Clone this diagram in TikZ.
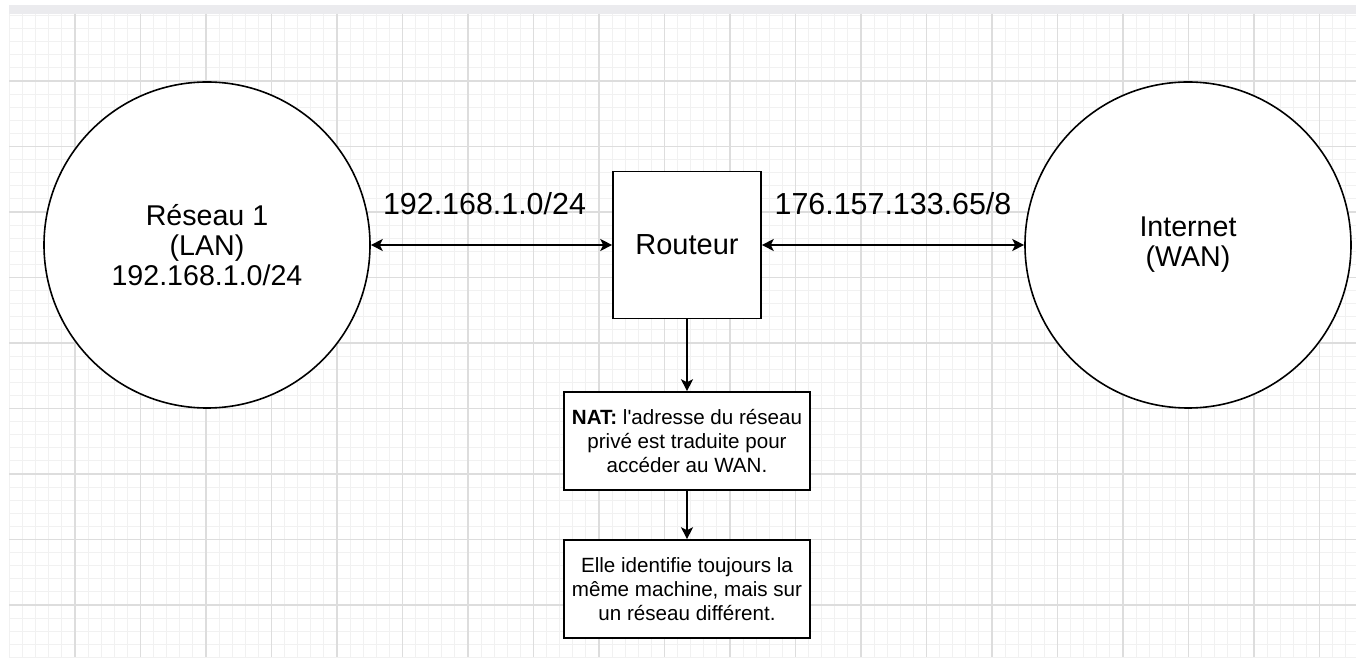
\documentclass[tikz,border=0pt]{standalone}
\usepackage{fontspec}
\setmainfont{Liberation Sans}
\usetikzlibrary{arrows.meta}
\definecolor{gridminor}{HTML}{F1F1F1}
\definecolor{gridmajor}{HTML}{DDDDDD}
\definecolor{topbar}{HTML}{EBEBEE}

\begin{document}
\begin{tikzpicture}[x=0.5pt,y=-0.5pt,
    minorline/.style={draw=gridminor,line width=0.5pt},
    majorline/.style={draw=gridmajor,line width=0.6pt},
    netcircle/.style={circle,draw,line width=0.8pt,fill=white,minimum size=163pt,inner sep=0pt,align=center,font=\fontsize{14.3}{15}\selectfont},
    routerbox/.style={rectangle,draw,line width=0.8pt,fill=white,minimum width=74pt,minimum height=73.5pt,font=\fontsize{14.5}{16}\selectfont},
    notebox/.style={rectangle,draw,line width=0.8pt,fill=white,minimum width=123pt,minimum height=49pt,inner sep=0pt,align=center,font=\fontsize{10.3}{12}\selectfont},
    link/.style={line width=0.8pt,{Stealth[length=6pt,width=6pt,inset=1.5pt]}-{Stealth[length=6pt,width=6pt,inset=1.5pt]}},
    downlink/.style={line width=0.8pt,-{Stealth[length=6pt,width=6pt,inset=1.5pt]}},
    netlabel/.style={inner sep=0pt,font=\fontsize{15.2}{16}\selectfont}]
  \useasboundingbox (0,0) rectangle (1356,662);
  \fill[topbar] (9,5) rectangle (1356,14);
  \foreach \k in {0,...,102} \draw[minorline] ({9.5+13.1*\k},14) -- ({9.5+13.1*\k},657);
  \foreach \k in {0,...,49} \draw[minorline] (9,{15.5+13.1*\k}) -- (1356,{15.5+13.1*\k});
  \foreach \k in {0,...,19} \draw[majorline] ({75+65.5*\k},14) -- ({75+65.5*\k},657);
  \foreach \k in {0,...,8} \draw[majorline] (9,{81+65.5*\k}) -- (1356,{81+65.5*\k});

  \node[netcircle] (lan) at (207,245) {Réseau 1\\(LAN)\\192.168.1.0/24};
  \node[netcircle] (wan) at (1188,245) {Internet\\(WAN)};
  \node[routerbox] (router) at (687,245) {Routeur};
  \node[notebox] (nat) at (687,441) {\textbf{NAT:} l\textquotesingle adresse du réseau\\privé est traduite pour\\accéder au WAN.};
  \node[notebox] (same) at (687,589) {Elle identifie toujours la\\même machine, mais sur\\un réseau différent.};

  \draw[link] (lan) -- node[netlabel,above=14.5pt,xshift=-3.5pt] {192.168.1.0/24} (router);
  \draw[link] (router) -- node[netlabel,above=14.5pt] {176.157.133.65/8} (wan);
  \draw[downlink] (router) -- (nat);
  \draw[downlink] (nat) -- (same);
\end{tikzpicture}
\end{document}
